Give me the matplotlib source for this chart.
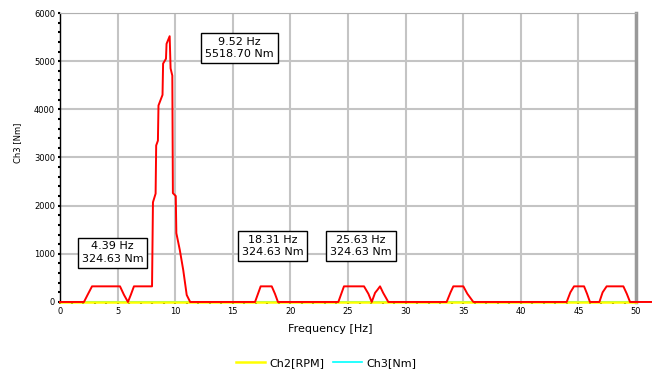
import numpy as np
import matplotlib
matplotlib.use('Agg')
import matplotlib.pyplot as plt
from matplotlib.ticker import MultipleLocator

# spectrum of the torque channel (frequency in Hz, amplitude in Nm)
freq_hz = [0.0, 2.08, 2.4, 2.78, 5.21, 5.55, 5.90, 6.15, 6.42, 7.99,
           8.07, 8.30, 8.35, 8.50, 8.55, 8.90, 8.95, 9.20, 9.25, 9.52,
           9.60, 9.75, 9.80, 10.05, 10.10, 10.40, 10.70, 11.00, 11.30,
           16.93, 17.42, 18.38, 18.66, 18.92,
           24.16, 24.65, 26.39, 26.77, 27.06, 27.35, 27.55, 27.78, 28.05, 28.50,
           33.56, 33.9, 34.14, 35.01, 35.36, 35.88,
           43.98, 44.3, 44.62, 45.49, 45.75, 46.00,
           46.82, 47.1, 47.45, 48.90, 49.2, 49.48, 51.3]
amp_nm = [0, 0, 150, 324.63, 324.63, 150, 0, 150, 324.63, 324.63,
          2070, 2250, 3250, 3350, 4080, 4300, 4950, 5050, 5360, 5518.7,
          4850, 4700, 2260, 2200, 1430, 1080, 660, 145, 0,
          0, 324.63, 324.63, 170, 0,
          0, 324.63, 324.63, 170, 0, 190, 250, 324.63, 190, 0,
          0, 200, 324.63, 324.63, 170, 0,
          0, 200, 324.63, 324.63, 170, 0,
          0, 200, 324.63, 324.63, 170, 0, 0]

# other channels sit at zero over the whole range
chan_freq = [0.0, 50.0]
ch2_rpm = [0, 0]
ch3_nm = [0, 0]

# peak markers: (frequency, amplitude, label position x, label position y)
peak_freq = [4.39, 9.52, 18.31, 25.63]
peak_amp = [324.63, 5518.70, 324.63, 324.63]
label_x = [4.56, 15.58, 18.45, 26.13]
label_y = [1025, 5270, 1160, 1160]

fig = plt.figure(figsize=(6.52, 3.77), dpi=100)
ax = fig.add_axes([0.092, 0.199, 0.8835, 0.7665])

ax.plot(chan_freq, ch3_nm, color='cyan', lw=1.2, label='Ch3[Nm]', zorder=2,
        clip_on=False)
ax.plot(chan_freq, ch2_rpm, color='yellow', lw=1.8, label='Ch2[RPM]', zorder=3,
        clip_on=False)
ax.plot(freq_hz, amp_nm, color='red', lw=1.4, zorder=4, clip_on=False)

for fx, fy, tx, ty in zip(peak_freq, peak_amp, label_x, label_y):
    ax.text(tx, ty, '%.2f Hz\n%.2f Nm' % (fx, fy), ha='center', va='center',
            fontsize=8, linespacing=1.3, zorder=5,
            bbox=dict(boxstyle='square,pad=0.35', fc='white', ec='black', lw=1.0))

ax.set_xlim(0, 50)
ax.set_ylim(0, 6000)
ax.xaxis.set_major_locator(MultipleLocator(5))
ax.xaxis.set_minor_locator(MultipleLocator(1))
ax.yaxis.set_major_locator(MultipleLocator(1000))
ax.yaxis.set_minor_locator(MultipleLocator(200))
ax.tick_params(which='both', direction='out', length=1.5, width=1.5, labelsize=6)
ax.tick_params(which='major', pad=2)
ax.grid(True, which='major', color='#c4c4c4', lw=1.5)
ax.set_axisbelow(True)

for side in ['top', 'right']:
    ax.spines[side].set_color('#b0b0b0')
ax.spines['right'].set_color('#999999')
ax.spines['right'].set_linewidth(2.5)
ax.spines['left'].set_linewidth(1.0)
ax.spines['bottom'].set_visible(False)

ax.set_xlabel('Frequency [Hz]', fontsize=8, labelpad=3)
ax.xaxis.set_label_coords(0.47, -0.075)
ax.set_ylabel('Ch3 [Nm]', fontsize=6)
ax.yaxis.set_label_coords(-0.065, 0.55)

handles, labels = ax.get_legend_handles_labels()
fig.legend(handles[::-1], labels[::-1], loc='center', bbox_to_anchor=(0.5, 0.037),
           ncol=2, frameon=False, fontsize=8, handlelength=2.6,
           handletextpad=0.4, columnspacing=0.8)

fig.savefig('out.png', dpi=100)
